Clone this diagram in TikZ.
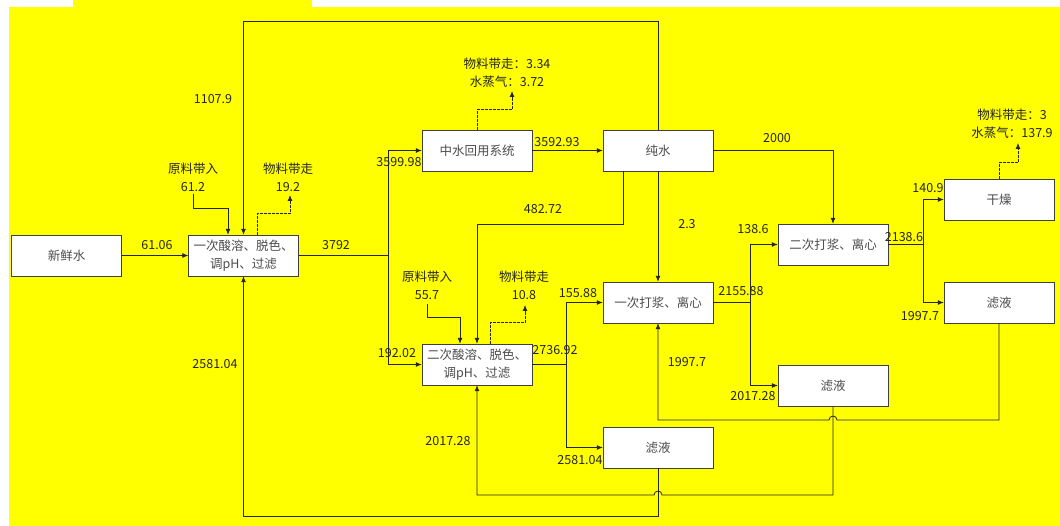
\documentclass[tikz,border=0pt]{standalone}
\usepackage{fontspec}
\newfontfamily\cjk{Noto Sans CJK SC}
\usetikzlibrary{positioning, arrows.meta}

\definecolor{bgyellow}{RGB}{255,255,0}
\tikzset{
    box/.style={draw=black!75, fill=white, minimum width=110pt, minimum height=41pt,
        inner sep=0pt, align=center, text=black!70},
    flow/.style={draw=black!85, line width=0.8pt},
    arr/.style={flow, -{Latex[length=6pt,width=5pt]}},
    loss/.style={arr, dashed, dash pattern=on 2.5pt off 1.5pt},
    lbl/.style={inner sep=0pt, align=center, text=black!85},
}

\begin{document}
\begin{tikzpicture}[x=1pt, y=-1pt, font=\cjk\fontsize{12.5}{18}\selectfont]
    % background
    \useasboundingbox (0,0) rectangle (1060,526);
    \fill[bgyellow] (9,7) rectangle (1060,526);
    \fill[bgyellow] (73,0) rectangle (312,7);

    % process boxes
    \node[box] (fresh)   at (66.5,255.5) {新鲜水};
    \node[box] (acid1)   at (243.5,255.5) {一次酸溶、脱色、\\调pH、过滤};
    \node[box] (reuse)   at (477,150.5) {中水回用系统};
    \node[box] (pure)    at (658,150.5) {纯水};
    \node[box] (acid2)   at (477,364.5) {二次酸溶、脱色、\\调pH、过滤};
    \node[box] (slurry1) at (658,302.5) {一次打浆、离心};
    \node[box] (filtB)   at (658,447.5) {滤液};
    \node[box] (slurry2) at (833,244.5) {二次打浆、离心};
    \node[box] (filtM)   at (833,385.5) {滤液};
    \node[box] (dry)     at (999,199.5) {干燥};
    \node[box] (filtR)   at (999,302.5) {滤液};

    % split points and free ends
    \coordinate (s1) at (388,255.5);
    \coordinate (s2) at (566,364.5);
    \coordinate (s3) at (750,302.5);
    \coordinate (s4) at (923,244.5);
    \coordinate (in1) at (193,194);
    \coordinate (in2) at (427,304);
    \coordinate (out1) at (290,195);
    \coordinate (out2) at (512,91);
    \coordinate (out3) at (525,305);
    \coordinate (out4) at (1018,143);

    % first acid step
    \draw[arr] (fresh) -- (acid1);
    \node[lbl] (l1) at (157,245) {61.06};
    \draw[arr] (in1) -- ++(0,14) -| ([xshift=-15.5pt]acid1.north);
    \node[lbl] (l2) at (193,177.5) {原料带入\\61.2};
    \draw[loss] ([xshift=13.5pt]acid1.north) -- ++(0,-21) -| (out1);
    \node[lbl] (l3) at (288,177.5) {物料带走\\19.2};
    \draw[arr] (pure.north) -- ++(0,-108) -| (acid1.north);
    \node[lbl] (l4) at (213,99) {1107.9};
    \draw[flow] (acid1.east) -- (s1);
    \node[lbl] (l5) at (336,245) {3792};
    \draw[arr] (s1) |- (reuse.west);
    \node[lbl] (l6) at (399,162) {3599.98};
    \draw[arr] (s1) |- (acid2.west);
    \node[lbl] (l7) at (397,353) {192.02};

    % water reuse and pure water
    \draw[arr] (reuse) -- (pure);
    \node[lbl] (l8) at (557,142) {3592.93};
    \draw[loss] (reuse.north) -- ++(0,-20) -| (out2);
    \node[lbl] (l9) at (507,73) {物料带走：3.34\\水蒸气：3.72};
    \draw[arr] ([xshift=-35pt]pure.south) -- ++(0,53) -| (acid2.north);
    \node[lbl] (l10) at (543,209) {482.72};
    \draw[arr] (pure) -- (slurry1);
    \node[lbl] (l11) at (687,224) {2.3};
    \draw[arr] (pure.east) -| (slurry2.north);
    \node[lbl] (l12) at (777,138) {2000};

    % second acid step
    \draw[arr] (in2) -- ++(0,13) -| ([xshift=-17pt]acid2.north);
    \node[lbl] (l13) at (427,285.5) {原料带入\\55.7};
    \draw[loss] ([xshift=13pt]acid2.north) -- ++(0,-21) -| (out3);
    \node[lbl] (l14) at (524,285.5) {物料带走\\10.8};
    \draw[flow] (acid2.east) -- (s2);
    \node[lbl] (l15) at (555,350) {2736.92};
    \draw[arr] (s2) |- (slurry1.west);
    \node[lbl] (l16) at (578,293) {155.88};
    \draw[arr] (s2) |- (filtB.west);
    \node[lbl] (l17) at (580,460) {2581.04};

    % slurry steps
    \draw[flow] (slurry1.east) -- (s3);
    \node[lbl] (l18) at (741,291) {2155.88};
    \draw[arr] (s3) |- (slurry2.west);
    \node[lbl] (l19) at (753,229) {138.6};
    \draw[arr] (s3) |- (filtM.west);
    \node[lbl] (l20) at (753,396) {2017.28};
    \draw[flow] (slurry2.east) -- (s4);
    \node[lbl] (l21) at (904,237) {2138.6};
    \draw[arr] (s4) |- (dry.west);
    \node[lbl] (l22) at (928,188) {140.9};
    \draw[arr] (s4) |- (filtR.west);
    \node[lbl] (l23) at (920,316) {1997.7};
    \draw[loss] (dry.north) -- ++(0,-16) -| (out4);
    \node[lbl] (l24) at (1012,124) {物料带走：3\\水蒸气：137.9};

    % filtrate returns
    \draw[arr] (filtR.south) |- (837,420) arc[start angle=0, end angle=180, radius=4pt] -| (slurry1.south);
    \node[lbl] (l25) at (687,362) {1997.7};
    \draw[arr] (filtM.south) |- (662,495) arc[start angle=0, end angle=180, radius=4pt] -| (acid2.south);
    \node[lbl] (l26) at (448,441) {2017.28};
    \draw[arr] (filtB.south) -- ++(0,48) -| (acid1.south);
    \node[lbl] (l27) at (215,364) {2581.04};
\end{tikzpicture}
\end{document}
